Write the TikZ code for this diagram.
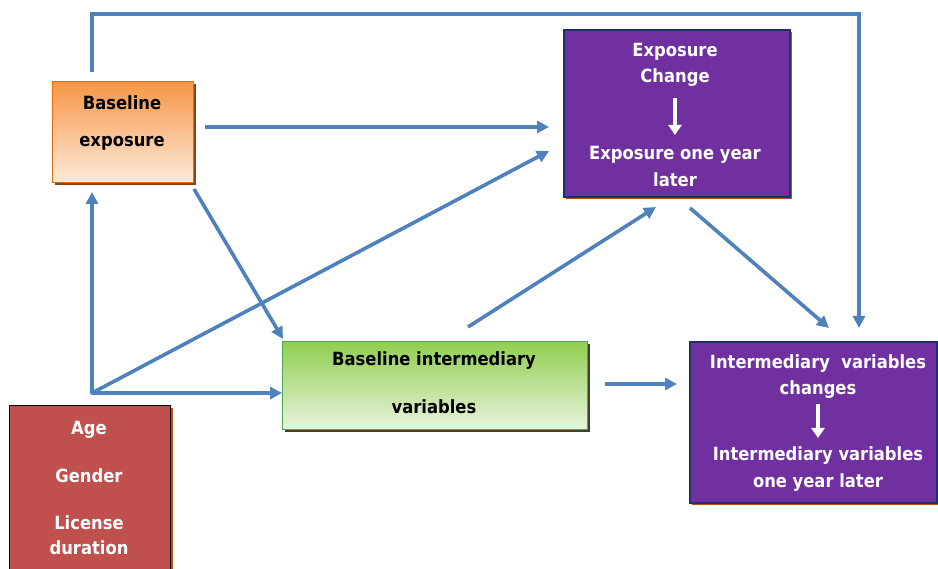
\documentclass[tikz,border=0pt]{standalone}
\usepackage{fontspec}
\setmainfont{DejaVu Sans Condensed}
\usetikzlibrary{arrows.meta,calc}
\definecolor{flow}{HTML}{4F81BD}
\definecolor{purp}{HTML}{7030A0}
\definecolor{navy}{HTML}{1F2F6B}
\definecolor{rust}{HTML}{C0504D}
\definecolor{shadowbrown}{HTML}{B3540F}
\definecolor{orangetop}{HTML}{F79646}
\definecolor{orangebot}{HTML}{FDEADA}
\definecolor{orangeline}{HTML}{E46C0A}
\definecolor{greentop}{HTML}{8FCF4F}
\definecolor{greenbot}{HTML}{EAF3DF}
\definecolor{greenline}{HTML}{4EA84E}
\begin{document}
\begin{tikzpicture}[x=1pt,y=-1pt,
  flowline/.style={draw=flow,line width=3.6pt,-{Triangle[length=12pt,width=12pt]}},
  plainline/.style={draw=flow,line width=3.6pt},
  lbl/.style={font=\bfseries\fontsize{18.2}{20}\selectfont,inner sep=0pt,anchor=center},
  wlbl/.style={lbl,text=white},
  whitearrow/.style={draw=white,line width=3.4pt,-{Triangle[length=10pt,width=13pt]}},
  boxnode/.style={draw,rectangle,inner sep=0pt,anchor=north west}]
\useasboundingbox (0,0) rectangle (938,569);
\fill[white] (0,0) rectangle (938,569);

% ---- shadows
\fill[shadowbrown!80!black] (55,84) rectangle (196,185);
\fill[shadowbrown] (566,32) rectangle (792,199);
\fill[black!70!olive] (285,344) rectangle (590,432);
\fill[shadowbrown] (692,344) rectangle (939,505);
\fill[shadowbrown] (12,408) rectangle (173,572);

% ---- boxes
\node[boxnode,draw=orangeline,line width=1.2pt,top color=orangetop,bottom color=orangebot,
  minimum width=141pt,minimum height=101pt] (be) at (52,81) {};
\node[boxnode,draw=navy,line width=1.6pt,fill=purp,
  minimum width=226pt,minimum height=167pt] (ex) at (563,29) {};
\node[boxnode,draw=greenline,line width=1.2pt,top color=greentop,bottom color=greenbot,
  minimum width=305pt,minimum height=88pt] (bi) at (282,341) {};
\node[boxnode,draw=navy,line width=1.6pt,fill=purp,
  minimum width=247pt,minimum height=161pt] (iv) at (689,341) {};
\node[boxnode,draw=black,line width=1.2pt,fill=rust,
  minimum width=161pt,minimum height=166pt] (ag) at (9,405) {};

% ---- labels
\node[lbl] (be1) at (122,103) {Baseline};
\node[lbl] (be2) at (122,143) {exposure};

\node[wlbl] (ex1) at (675,52) {Exposure};
\node[wlbl] (ex2) at (675,78) {Change};
\node[wlbl] (ex3) at (675,155) {Exposure one year};
\node[wlbl] (ex4) at (675,180) {later};
\draw[whitearrow] (675,98) -- (675,135);

\node[lbl] (bi1) at (434,361) {Baseline intermediary};
\node[lbl] (bi2) at (434,407) {variables};

\node[wlbl] (iv1) at (818,364) {Intermediary\ \ variables};
\node[wlbl] (iv2) at (818,390) {changes};
\node[wlbl] (iv3) at (818,456) {Intermediary variables};
\node[wlbl] (iv4) at (818,483) {one year later};
\draw[whitearrow] (818,404) -- (818,438);

\node[wlbl] (ag1) at (89,430) {Age};
\node[wlbl] (ag2) at (89,476) {Gender};
\node[wlbl] (ag3) at (89,523) {License};
\node[wlbl] (ag4) at (89,548) {duration};

% ---- connector end points
\coordinate (jn) at (92,393);
\coordinate (topstart) at (92,72);
\coordinate (tl) at (92,14);
\coordinate (tr) at (859,14);
\coordinate (topend) at (859,328);
\coordinate (beout) at (205,127);
\coordinate (exin1) at (549,127);
\coordinate (exin2) at (549,151);
\coordinate (beout2) at (194,189);
\coordinate (biin) at (283,339);
\coordinate (bein) at (92,192);
\coordinate (biin2) at (282,393);
\coordinate (biout) at (468,327);
\coordinate (exin3) at (656,207);
\coordinate (exout) at (690,208);
\coordinate (ivin) at (829,328);
\coordinate (biout2) at (605,384);
\coordinate (ivin2) at (677,384);

% ---- connectors
\draw[flowline] (topstart) -- (tl) -- (tr) -- (topend);
\draw[flowline] (beout) -- (exin1);
\draw[flowline] (beout2) -- (biin);
\draw[plainline,line cap=round] (jn) -- ++(0,-4);
\draw[flowline] (jn) -- (bein);
\draw[flowline] (jn) -- (biin2);
\draw[flowline] (jn) -- (exin2);
\draw[flowline] (biout) -- (exin3);
\draw[flowline] (exout) -- (ivin);
\draw[flowline] (biout2) -- (ivin2);
\end{tikzpicture}
\end{document}
